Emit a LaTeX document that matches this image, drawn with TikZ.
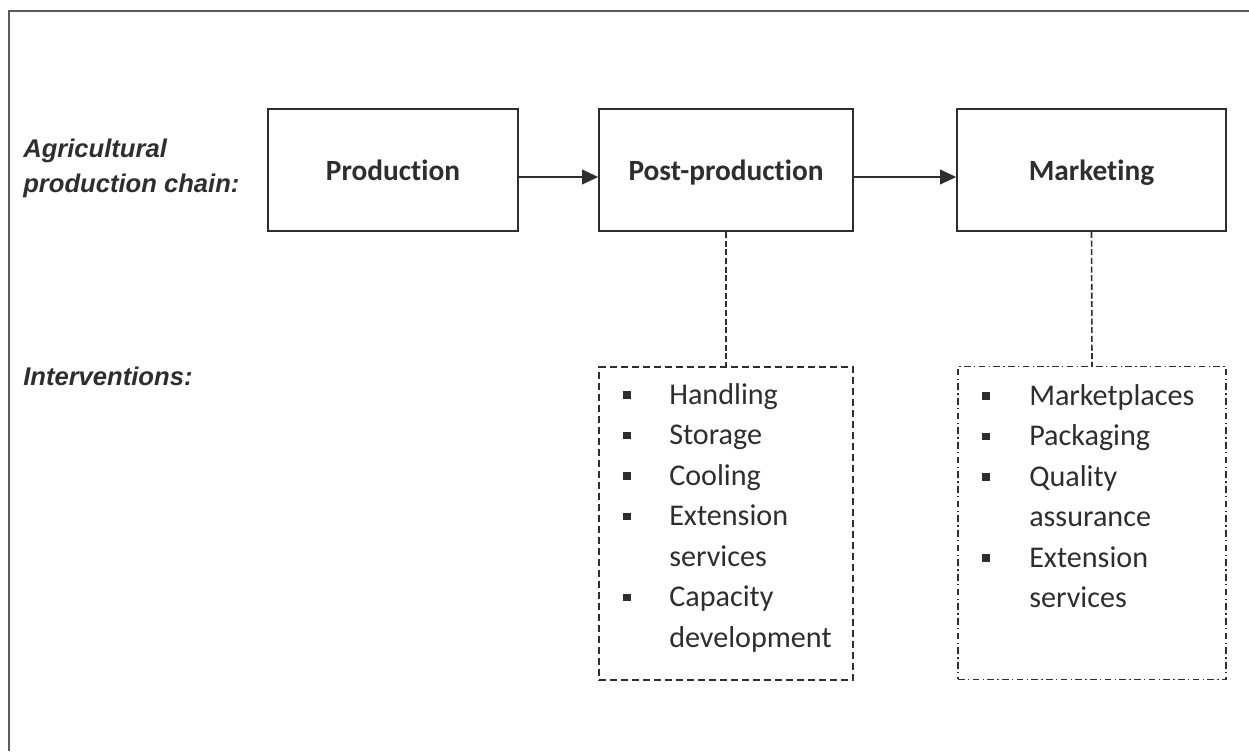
\documentclass[tikz,border=0pt]{standalone}
\usepackage{fontspec}
\setmainfont{Carlito}[Ligatures=NoCommon]
\newfontfamily\arialfont{Liberation Sans}
\usetikzlibrary{arrows.meta}
\definecolor{ink}{HTML}{2E2E2E}
\definecolor{framec}{HTML}{5A5A5A}
\begin{document}
\begin{tikzpicture}[x=0.75pt,y=-0.75pt,
  stage/.style={draw=ink, line width=1.3pt, minimum height=91.5pt, inner sep=0pt,
    text height=18pt, text depth=3pt,
    font=\fontsize{22}{26}\selectfont\bfseries, text=ink},
  sidelabel/.style={font=\arialfont\bfseries\itshape\fontsize{19.2}{25}\selectfont, text=ink, anchor=base west, inner sep=0pt},
  item/.style={font=\fontsize{22.6}{26}\selectfont, text=ink, anchor=base west, inner sep=0pt},
  bul/.style={fill=ink, minimum size=5.5pt, inner sep=0pt},
  arr/.style={draw=ink, line width=1.2pt, -{Triangle[length=12pt,width=11pt]}},
  conn/.style={draw=ink, line width=1.2pt, dash pattern=on 4.5pt off 2pt},
  dashbox/.style={draw=ink, line width=1.2pt, dash pattern=on 5.25pt off 3pt, minimum height=234.5pt, inner sep=0pt},
  dotbox/.style={draw=ink, line width=1.2pt, dash pattern=on 5pt off 2.5pt on 1pt off 2.5pt, minimum height=234.5pt, inner sep=0pt}
]
\useasboundingbox (0,0) rectangle (1249,751);
% outer frame (cropped)
\coordinate (fbl) at (9,751);
\coordinate (ftl) at (9,11);
\coordinate (ftr) at (1249,11);
\draw[framec, line width=1.8pt] (fbl) -- (ftl) -- (ftr);

% side labels
\node[sidelabel] (agri1) at (23,157) {Agricultural};
\node[sidelabel] (agri2) at (23,192) {production chain:};
\node[sidelabel] (interv) at (23,385) {Interventions:};

% stages
\node[stage, minimum width=187.5pt] (prod) at (393,170) {Production};
\node[stage, minimum width=190.5pt] (post) at (726,170) {Post-production};
\node[stage, minimum width=201.75pt] (mkt) at (1091.5,170) {Marketing};

\draw[arr] ([yshift=-5.25pt]prod.east) -- ([yshift=-5.25pt]post.west);
\draw[arr] ([yshift=-5.25pt]post.east) -- ([yshift=-5.25pt]mkt.west);

% intervention boxes
\node[dashbox, minimum width=190.5pt] (postbox) at (726,523.5) {};
\node[dotbox, minimum width=201pt] (mktbox) at (1092,523) {};

\draw[conn] (post.south) -- (postbox.north);
\draw[conn] (mkt.south) -- (mktbox.north);

% post-production list
\foreach \t/\b [count=\k from 0] in {Handling/1,Storage/1,Cooling/1,Extension/1,services/0,Capacity/1,development/0}{
  \node[item] (pi\k) at (669,404+40.5*\k) {\t};
  \ifnum\b=1 \node[bul] (pb\k) at (627,395+40.5*\k) {};\fi
}
% marketing list
\foreach \t/\b [count=\k from 0] in {Marketplaces/1,Packaging/1,Quality/1,assurance/0,Extension/1,services/0}{
  \node[item] (mi\k) at (1029,405+40.5*\k) {\t};
  \ifnum\b=1 \node[bul] (mb\k) at (986,396+40.5*\k) {};\fi
}
\end{tikzpicture}
\end{document}
